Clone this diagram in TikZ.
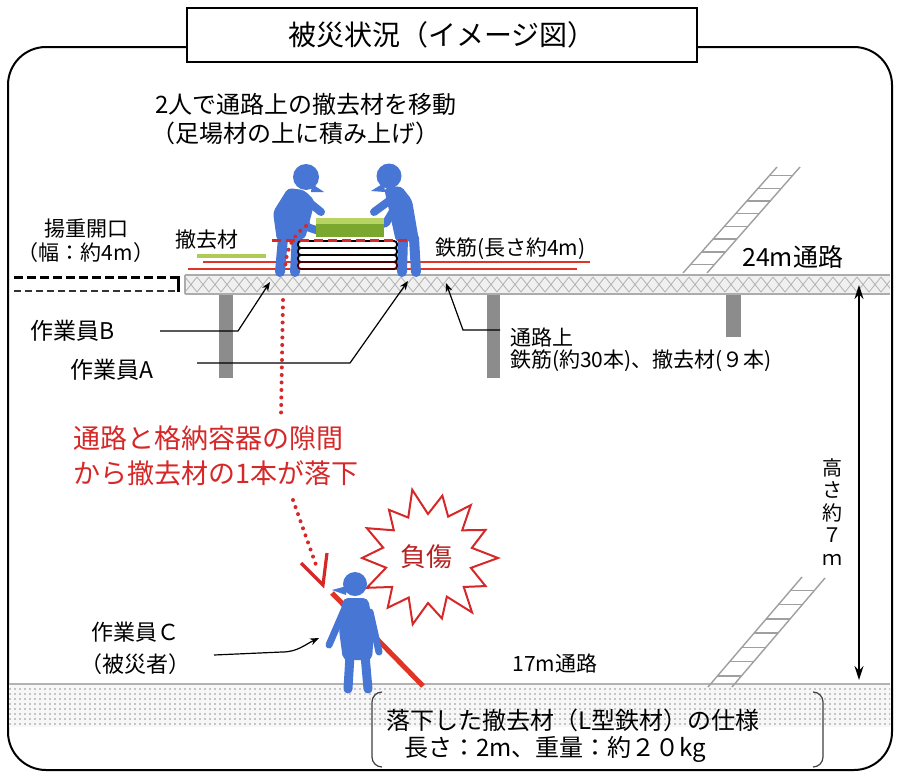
\documentclass[tikz,border=0pt]{standalone}
\usepackage{fontspec}
\setmainfont{Noto Sans CJK JP}
\usetikzlibrary{arrows.meta,calc,patterns.meta}
\definecolor{workerblue}{RGB}{72,118,212}
\definecolor{alertred}{RGB}{214,40,40}
\definecolor{barred}{RGB}{224,52,38}
\definecolor{greendark}{RGB}{122,168,46}
\definecolor{greenlight}{RGB}{184,212,98}
\definecolor{steelgray}{RGB}{140,140,140}
\begin{document}
\begin{tikzpicture}[x=1pt,y=-1pt,
  txt/.style={inner sep=0pt, font=\fontsize{#1}{#1}\selectfont},
  worker/.style={fill=workerblue, draw=none},
  limb/.style={draw=workerblue, line width=#1, line cap=round, line join=round},
  leader/.style={draw=black, line width=1.2, -{Stealth[length=9pt,width=7pt]}},
  hatchline/.style={draw=gray!60, line width=0.8},
  rail/.style={draw=gray!75, line width=1.4},
  pillar/.style={fill=steelgray, draw=none},
  reddots/.style={draw=alertred, line width=4, line cap=round, dash pattern=on 0pt off 7.5pt},
  rebar/.style={draw=barred, line width=2.6},
  board/.style={draw=black, fill=white, line width=1.8, rounded corners=3},
]
\useasboundingbox (0,0) rectangle (899,779);
\fill[white] (0,0) rectangle (899,779);

% outer frame and title
\draw[line width=2, rounded corners=38] (8,47) rectangle (892,770);
\node[draw, fill=white, line width=1.2, minimum width=510pt, minimum height=54pt,
      txt=28] (title) at (442,35) {被災状況（イメージ図）};

% ---------- upper 24 m walkway ----------
\fill[pillar] (219,294) rectangle (233,378);
\fill[pillar] (487,294) rectangle (500,378);
\fill[pillar] (726,294) rectangle (741,337);

\fill[gray!12] (185,275) rectangle (890,294);
\begin{scope}
  \clip (185,275) rectangle (890,294);
  \foreach \i in {0,...,59} {
    \draw[hatchline] ({185+12*\i},277) -- ({197+12*\i},292);
    \draw[hatchline] ({185+12*\i},292) -- ({197+12*\i},277);
  }
\end{scope}
\draw[gray!65, line width=1.5] (185,275) -- (890,275);
\draw[gray!65, line width=1.5] (185,294) -- (890,294);
\draw[gray!65, line width=1.2] (185,275) -- (185,294);

% lifting opening (dashed)
\draw[black, line width=3, dash pattern=on 9pt off 4pt] (14,277) -- (178,277);
\draw[black!80, line width=2.4, dash pattern=on 7pt off 4pt] (14,291) -- (178,291);
\draw[black, line width=3] (178,276) -- (178,292);

% upper ladder
\coordinate (ulA) at (683,273); \coordinate (ulB) at (777,167);
\draw[rail] (ulA) -- (ulB);
\draw[rail] (707,273) -- (800,167);
\foreach \t in {0.08,0.2,0.32,0.44,0.56,0.68,0.8,0.92}
  \draw[rail] ($(ulA)!\t!(ulB)$) -- ++(24,0);

% removed material lying on the walkway
\draw[greenlight!80!greendark, line width=4] (197,256) -- (266,256);
\draw[rebar] (203,262) -- (590,262);
\draw[rebar] (188,269) -- (577,269);

% workers A and B
% worker B (left)
\fill[worker] (306,177) circle (13);
\fill[worker] (312,184) -- (324,192) -- (311,192) -- cycle;
\fill[worker, rounded corners=4] (288,188) -- (304,190) -- (315,201) -- (305,239) -- (277,241) -- (273,212) -- cycle;
\draw[limb=8] (305,199) -- (321,212);
\draw[limb=8] (300,207) -- (307,227) -- (319,231);
\draw[limb=10] (283,238) -- (280,272);
\draw[limb=10] (297,236) -- (295,272);
% worker A (right)
\fill[worker] (389,176) circle (12.5);
\fill[worker] (384,183) -- (371,191) -- (385,192) -- cycle;
\fill[worker, rounded corners=4] (384,188) -- (401,186) -- (412,200) -- (419,241) -- (396,242) -- (389,210) -- cycle;
\draw[limb=8] (393,198) -- (374,212);
\draw[limb=8] (396,206) -- (386,223) -- (374,226);
\draw[limb=10] (403,238) -- (402,272);
\draw[limb=10] (414,238) -- (416,272);

% scaffold boards and the load being lifted
\draw[board] (298,241) rectangle (397,248);
\draw[board] (298,248) rectangle (397,255);
\draw[board] (298,255) rectangle (397,262);
\draw[board, draw=black!70!red] (298,262) rectangle (397,269);
\fill[greendark] (316,218) rectangle (384,237);
\fill[greenlight] (316,218) rectangle (384,224);
\draw[alertred, line width=3, dash pattern=on 9pt off 5pt] (272,240) -- (411,240);

% falling path of the piece
\draw[reddots] (306,226) .. controls (292,236) and (286,250) .. (285,270);
\draw[reddots] (283,300) -- (281,416);

% ---------- labels, upper level ----------
\node[txt=24] (task1) at (306,104) {2人で通路上の撤去材を移動};
\node[txt=24] (task2) at (295,133) {（足場材の上に積み上げ）};
\node[txt=21] (open1) at (86,229) {揚重開口};
\node[txt=21] (open2) at (86,253) {（幅：約4m）};
\node[txt=21] (scrap) at (207,240) {撤去材};
\node[txt=21, anchor=west] (rebarlbl) at (435,249) {鉄筋(長さ約4m)};
\node[txt=25, anchor=west] (upperway) at (742,257) {24m通路};

\node[txt=23] (wkB) at (73,331) {作業員B};
\node[txt=23] (wkA) at (112,370) {作業員A};
\coordinate (tipB) at (270,282);
\coordinate (tipA) at (408,281);
\draw[leader] (160,331) -- (238,331) -- (tipB);
\draw[leader] (197,363) -- (350,363) -- (tipA);

\node[txt=21, anchor=west] (onway1) at (510,337) {通路上};
\node[txt=21, anchor=west] (onway2) at (510,361) {鉄筋(約30本)、撤去材(９本)};
\coordinate (tipWay) at (446,283);
\draw[leader] (500,330) -- (463,330) -- (tipWay);

% red caption
\node[txt=27, text=alertred, anchor=west] (cause1) at (73,438) {通路と格納容器の隙間};
\node[txt=27, text=alertred, anchor=west] (cause2) at (73,473) {から撤去材の1本が落下};

% dotted fall arrow with open chevron head
\coordinate (fallTip) at (323,585);
\draw[reddots] (293,500) -- (316,565);
\draw[alertred, line width=3.2, line join=miter] (301,563) -- (fallTip) -- (327,553);

% ---------- lower 17 m walkway ----------
\fill[gray!6] (9,684) rectangle (890,727);
\fill[pattern={Dots[distance=5pt,radius=0.85pt]}, pattern color=gray!85] (9,684) rectangle (890,727);
\draw[gray!60, line width=1.5] (9,684) -- (890,684);

% lower ladder
\coordinate (llA) at (708,687); \coordinate (llB) at (802,577);
\draw[rail] (llA) -- (llB);
\draw[rail] (732,687) -- (825,578);
\foreach \t in {0.1,0.23,0.36,0.49,0.62,0.75,0.88}
  \draw[rail] ($(llA)!\t!(llB)$) -- ++(24,0);

% height dimension
\coordinate (hTop) at (859,285);
\coordinate (hBot) at (859,680);
\draw[line width=1.5, {Stealth[length=14pt,width=9pt]}-{Stealth[length=14pt,width=9pt]}] (hTop) -- (hBot);
\node[inner sep=0pt, align=center, font=\fontsize{20}{22.5}\selectfont] (height) at (832,512) {高\\さ\\約\\７\\ｍ};

% impact burst
\coordinate (burstC) at (428,558);
\draw[alertred, line width=2, fill=white, line join=miter]
  ($(burstC)+(0:70)$)
  \foreach \a/\r in {13/44,26/64,39/46,51/70,64/43,77/62,90/45,103/68,116/44,129/64,141/46,154/68,167/43,180/66,193/46,206/68,219/44,231/62,244/45,257/70,270/44,283/64,296/46,309/68,321/44,334/64,347/45} {
    -- ($(burstC)+(\a:\r)$)
  } -- cycle;
\node[txt=26, text=alertred!85!black] (injury) at (426,557) {負傷};

% fallen L-steel and worker C
\draw[barred, line width=5] (332,593) -- (423,686);
\fill[worker] (355,584) circle (12);
\fill[worker] (347,586) -- (332,590) -- (346,595) -- cycle;
\fill[worker, rounded corners=5] (343,598) -- (368,598) -- (374,630) -- (372,660) -- (343,660) -- (339,630) -- cycle;
\draw[limb=7] (345,608) -- (329,645);
\draw[limb=7] (370,612) -- (379,652);
\draw[limb=9] (350,655) -- (348,689);
\draw[limb=9] (365,655) -- (368,689);

\node[txt=22] (wkC1) at (135,632) {作業員Ｃ};
\node[txt=22] (wkC2) at (135,664) {（被災者）};
\coordinate (tipC) at (319,638);
\draw[leader] (214,655) -- (282,652) to[out=0,in=205] (tipC);

\node[txt=21] (lowerway) at (555,663) {17m通路};

% specification of the fallen piece
\draw[black!75, line width=1.2] (382,692) to[out=180,in=90] (372,702) -- (372,757) to[out=-90,in=180] (382,767);
\draw[black!75, line width=1.2] (813,692) to[out=0,in=90] (823,702) -- (823,757) to[out=-90,in=0] (813,767);
\node[txt=24, anchor=west] (spec1) at (386,720) {落下した撤去材（L型鉄材）の仕様};
\node[txt=24, anchor=west] (spec2) at (404,749) {長さ：2m、重量：約２０kg};
\end{tikzpicture}
\end{document}
